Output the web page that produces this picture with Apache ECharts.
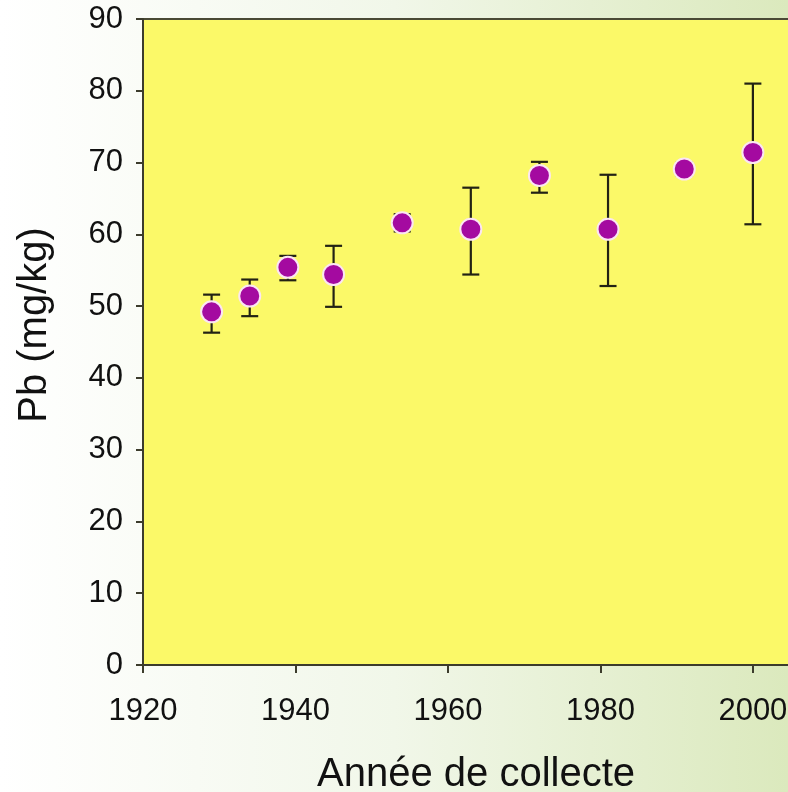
<!DOCTYPE html>
<html>
<head>
<meta charset="utf-8">
<script src="https://cdn.jsdelivr.net/npm/echarts@6/dist/echarts.min.js"></script>
<style>
  html, body { margin: 0; padding: 0; }
  #chart { width: 788px; height: 792px; }
</style>
</head>
<body>
<div id="chart"></div>
<script>
// Data
const years    = [1929, 1934, 1939, 1945, 1954, 1963, 1972, 1981, 1991, 2000];
const pbValues = [49.2, 51.4, 55.4, 54.4, 61.6, 60.7, 68.2, 60.7, 69.1, 71.4];
const errLow   = [46.3, 48.6, 53.6, 49.9, 60.4, 54.4, 65.8, 52.8, 68.2, 61.4];
const errHigh  = [51.6, 53.7, 57.0, 58.4, 62.8, 66.5, 70.1, 68.3, 70.0, 81.0];
const xTicks = [1920, 1940, 1960, 1980, 2000];
const yTicks = [0, 10, 20, 30, 40, 50, 60, 70, 80, 90];
const xTitle = 'Année de collecte';
const yTitle = 'Pb (mg/kg)';

const FONT = '"Liberation Sans", Arial, sans-serif';

const points = years.map((y, i) => [y, pbValues[i]]);
const bars = years.map((y, i) => [y, errLow[i], errHigh[i]]);

const chart = echarts.init(document.getElementById('chart'));
chart.setOption({
  animation: false,
  backgroundColor: {
    type: 'linear', x: 0, y: 0, x2: 1, y2: 0,
    colorStops: [
      { offset: 0, color: '#ffffff' },
      { offset: 0.5, color: '#f1f7e9' },
      { offset: 1, color: '#dbe9bd' }
    ]
  },
  grid: {
    left: 143, top: 19, bottom: 127, right: -3,
    outerBoundsMode: 'none',
    containLabel: false,
    show: true,
    backgroundColor: '#fbf968',
    borderColor: '#4a4a35',
    borderWidth: 2
  },
  xAxis: {
    type: 'value',
    min: 1920, max: 2005,
    name: xTitle,
    nameLocation: 'middle',
    nameGap: 90,
    nameTextStyle: { fontFamily: FONT, fontSize: 40, color: '#111', padding: [0, 0, 0, 18] },
    axisLine: { show: true, lineStyle: { color: '#3c3c2c', width: 2 } },
    axisTick: { show: true, inside: false, length: 8, customValues: xTicks, lineStyle: { color: '#3c3c2c', width: 2 } },
    axisLabel: {
      margin: 31, fontFamily: FONT, fontSize: 31, color: '#111',
      customValues: xTicks,
      formatter: v => String(v)
    },
    splitLine: { show: false }
  },
  yAxis: {
    type: 'value',
    min: 0, max: 90, interval: 10,
    name: yTitle,
    nameLocation: 'middle',
    nameGap: 88,
    nameTextStyle: { fontFamily: FONT, fontSize: 40, color: '#111', padding: [0, 0, 0, 34] },
    axisLine: { show: true, lineStyle: { color: '#3c3c2c', width: 2 } },
    axisTick: { show: true, inside: false, length: 7, lineStyle: { color: '#3c3c2c', width: 2 } },
    axisLabel: {
      margin: 20, fontFamily: FONT, fontSize: 31, color: '#111',
      formatter: v => (yTicks.indexOf(v) >= 0 ? String(v) : '')
    },
    splitLine: { show: false }
  },
  series: [
    {
      type: 'custom',
      data: bars,
      z: 2,
      renderItem: function (params, api) {
        const x = api.value(0);
        const lo = api.coord([x, api.value(1)]);
        const hi = api.coord([x, api.value(2)]);
        const w = 8.5;
        const st = { stroke: '#222214', lineWidth: 2.2 };
        return {
          type: 'group',
          children: [
            { type: 'line', shape: { x1: lo[0], y1: lo[1], x2: hi[0], y2: hi[1] }, style: st },
            { type: 'line', shape: { x1: lo[0] - w, y1: lo[1], x2: lo[0] + w, y2: lo[1] }, style: st },
            { type: 'line', shape: { x1: hi[0] - w, y1: hi[1], x2: hi[0] + w, y2: hi[1] }, style: st }
          ]
        };
      }
    },
    {
      type: 'scatter',
      data: points,
      z: 5,
      symbol: 'circle',
      symbolSize: 21,
      itemStyle: { color: '#a40aa0', opacity: 1, borderColor: '#fbe6f2', borderWidth: 2 }
    }
  ]
});
</script>
</body>
</html>
